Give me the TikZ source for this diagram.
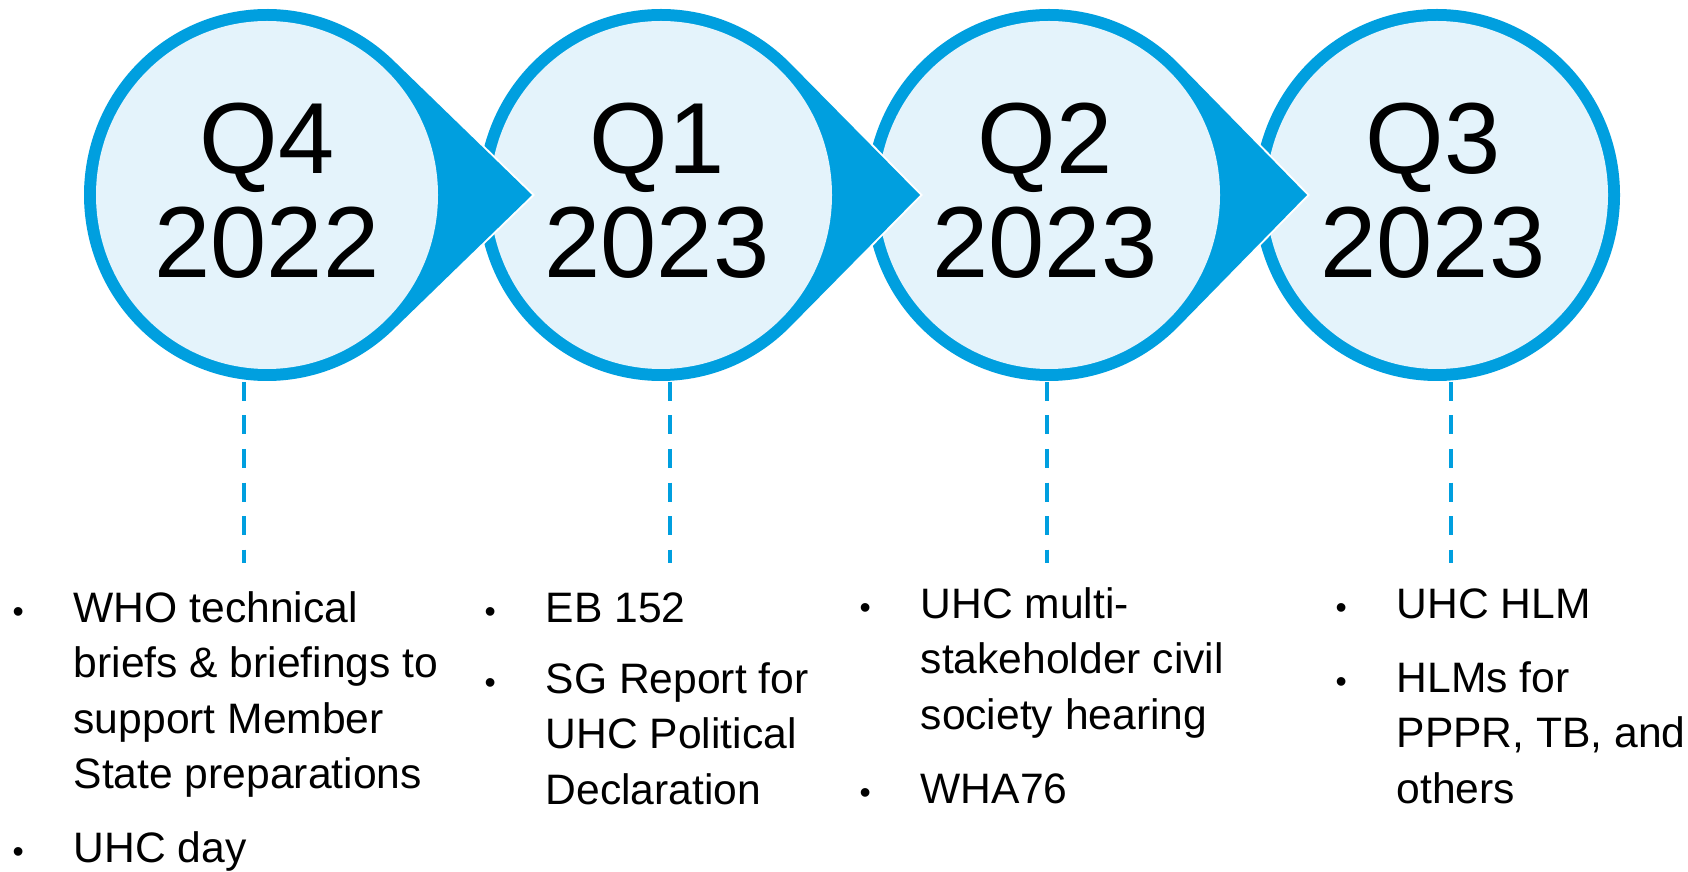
\documentclass[tikz,border=0pt]{standalone}
\usepackage{fontspec}
\setmainfont{Liberation Sans}
\definecolor{tlblue}{RGB}{0,159,223}
\definecolor{tllight}{RGB}{228,243,251}
\newlength\bulw \setlength\bulw{62.5pt}
\newcommand\bitem[1]{\makebox[\bulw][l]{\hspace{1.5pt}{\fontsize{32}{32}\selectfont\textbullet}}#1}
\newcommand\bcont[1]{\hspace*{\bulw}#1}
\newcommand\colfont{\fontsize{42.6}{55.5}\selectfont}
\newcommand\qfont{\fontsize{101}{104}\selectfont}
% #1 centre x, #2 tip x, #3 tangent angle
\newcommand\stagearrow[3]{%
  \path[hullwhite] (#1,676) ++(#3:183 and 186) arc[start angle=#3,end angle=360-#3,x radius=183,y radius=186] -- (#2,676) -- cycle;
  \path[hullfill] (#1,676) ++(#3:183 and 186) arc[start angle=#3,end angle=360-#3,x radius=183,y radius=186] -- (#2,676) -- cycle;
  \path[innerfill] (#1,676) ellipse[x radius=171,y radius=174];
}
\tikzset{
  hullwhite/.style={draw=white,line width=4pt,line join=miter},
  hullfill/.style={fill=tlblue},
  innerfill/.style={fill=tllight},
  qtext/.style={anchor=base,inner sep=0pt},
  coltext/.style={anchor=base west,inner sep=0pt},
  guide/.style={draw=tlblue,line width=4.5pt,dash pattern=on 19pt off 14.5pt},
}
\begin{document}
\begin{tikzpicture}[x=1pt,y=1pt]
\useasboundingbox (0,0) rectangle (1688,871);
% Q3 (no arrow)
\path[hullfill] (1437,676) ellipse[x radius=183,y radius=186];
\path[innerfill] (1437,676) ellipse[x radius=171,y radius=174];
\node[qtext] (q3) at (1433,697) {\parbox[t]{360pt}{\centering\qfont Q3\\2023}};
% Q2
\stagearrow{1049}{1307}{45}
\node[qtext] (q2) at (1045,697) {\parbox[t]{360pt}{\centering\qfont Q2\\2023}};
% Q1
\stagearrow{661}{920}{45}
\node[qtext] (q1) at (657,697) {\parbox[t]{360pt}{\centering\qfont Q1\\2023}};
% Q4
\stagearrow{267}{532}{46}
\node[qtext] (q4) at (267,697) {\parbox[t]{360pt}{\centering\qfont Q4\\2022}};

% columns
\node[coltext] (c4) at (11,249) {\parbox[t]{460pt}{\raggedright\colfont
  \bitem{WHO technical}\\
  \bcont{briefs \& briefings to}\\
  \bcont{support Member}\\
  \bcont{State preparations}\\[18.5pt]
  \bitem{UHC day}}};
\node[coltext] (c1) at (483,248.3) {\parbox[t]{400pt}{\raggedright\colfont
  \bitem{EB 152}\\[15pt]
  \bitem{SG Report for}\\
  \bcont{UHC Political}\\
  \bcont{Declaration}}};
\node[coltext] (c2) at (858,253) {\parbox[t]{400pt}{\raggedright\colfont
  \bitem{UHC multi-}\\
  \bcont{stakeholder civil}\\
  \bcont{society hearing}\\[18.5pt]
  \bitem{WHA76}}};
\node[coltext] (c3) at (1334,253) {\parbox[t]{400pt}{\raggedright\colfont
  \bitem{UHC HLM}\\[18.5pt]
  \bitem{HLMs for}\\
  \bcont{PPPR, TB, and}\\
  \bcont{others}}};

% dashed guides
\coordinate (g4a) at (244,489); \coordinate (g4b) at (244,308);
\coordinate (g1a) at (670,489); \coordinate (g1b) at (670,308);
\coordinate (g2a) at (1047,489); \coordinate (g2b) at (1047,308);
\coordinate (g3a) at (1451,489); \coordinate (g3b) at (1451,308);
\draw[guide] (g4a) -- (g4b);
\draw[guide] (g1a) -- (g1b);
\draw[guide] (g2a) -- (g2b);
\draw[guide] (g3a) -- (g3b);
\end{tikzpicture}
\end{document}
